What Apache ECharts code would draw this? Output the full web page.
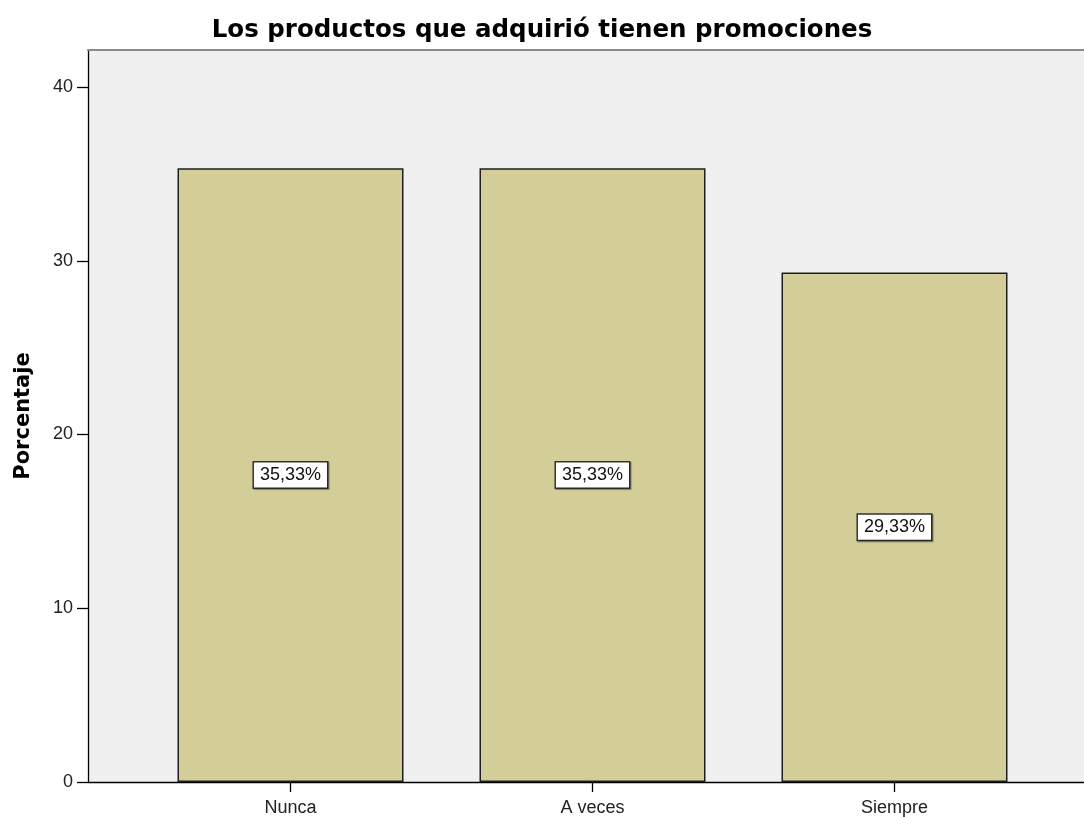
<!DOCTYPE html>
<html>
<head>
<meta charset="utf-8">
<script src="https://cdn.jsdelivr.net/npm/echarts@6/dist/echarts.min.js"></script>
<style>
  html, body { margin: 0; padding: 0; background: #ffffff; }
  #chart { width: 1084px; height: 817px; }
</style>
</head>
<body>
<div id="chart"></div>
<script>
// Respuestas y porcentajes
const categories = ['Nunca', 'A veces', 'Siempre'];
const percentages = [35.33, 35.33, 29.33];
const yTicks = [0, 10, 20, 30, 40];

const Y_MAX = 42.13;
const FONT = '"Liberation Sans", Arial, sans-serif';
const BOLD_FONT = '"DejaVu Sans", "Liberation Sans", sans-serif';

const chart = echarts.init(document.getElementById('chart'), null, { renderer: 'canvas' });

const fmtPct = v => v.toFixed(2).replace('.', ',') + '%';

chart.setOption({
  animation: false,
  backgroundColor: '#ffffff',
  title: {
    text: 'Los productos que adquirió tienen promociones',
    left: 'center',
    top: 13,
    textStyle: { fontFamily: BOLD_FONT, fontSize: 24.5, fontWeight: 'bold', color: '#000' }
  },
  grid: [
    // plot background, y axis and baseline
    { left: 88, right: 0, top: 50, bottom: 35, show: true, backgroundColor: '#f0f0f0', borderWidth: 0 },
    // bars
    { left: 139.5, right: 38.5, top: 50, bottom: 35 }
  ],
  xAxis: [
    { gridIndex: 0, type: 'value', min: 0, max: 1, position: 'bottom',
      axisLine: { show: true, lineStyle: { color: '#000', width: 1.3 } },
      axisTick: { show: false }, axisLabel: { show: false }, splitLine: { show: false } },
    { gridIndex: 0, type: 'value', min: 0, max: 1, position: 'top',
      axisLine: { show: true, lineStyle: { color: '#8a8a8a', width: 2 } },
      axisTick: { show: false }, axisLabel: { show: false }, splitLine: { show: false } },
    { gridIndex: 1, type: 'category', data: categories, position: 'bottom',
      axisLine: { show: false },
      axisTick: { show: true, alignWithLabel: true, length: 10, lineStyle: { color: '#000', width: 1.3 } },
      axisLabel: { fontFamily: FONT, fontSize: 18, color: '#222', margin: 17 } }
  ],
  yAxis: [
    { gridIndex: 0, type: 'value', min: 0, max: Y_MAX, interval: 10,
      name: 'Porcentaje', nameLocation: 'middle', nameGap: 54, nameRotate: 90,
      nameTextStyle: { fontFamily: BOLD_FONT, fontSize: 21, fontWeight: 'bold', color: '#000' },
      axisLine: { show: true, lineStyle: { color: '#000', width: 1.3 } },
      axisTick: { show: true, length: 11, lineStyle: { color: '#000', width: 1.3 } },
      axisLabel: { fontFamily: FONT, fontSize: 18, color: '#222', margin: 15,
        showMaxLabel: false,
        formatter: v => (yTicks.indexOf(v) >= 0 ? String(v) : '') },
      splitLine: { show: false } },
    { gridIndex: 1, type: 'value', min: 0, max: Y_MAX, show: false }
  ],
  series: [{
    type: 'bar',
    xAxisIndex: 2,
    yAxisIndex: 1,
    data: percentages,
    barWidth: 226,
    itemStyle: { color: '#d3cd97', borderColor: '#1e1e1e', borderWidth: 1.5 },
    label: {
      show: true,
      position: 'inside',
      formatter: p => fmtPct(p.value),
      fontFamily: FONT,
      fontSize: 18,
      color: '#111',
      backgroundColor: '#ffffff',
      borderColor: '#333',
      borderWidth: 1.5,
      padding: [4, 6, 3, 6],
      shadowColor: 'rgba(0,0,0,0.35)',
      shadowOffsetX: 1,
      shadowOffsetY: 1,
      shadowBlur: 1
    }
  }]
});
</script>
</body>
</html>
